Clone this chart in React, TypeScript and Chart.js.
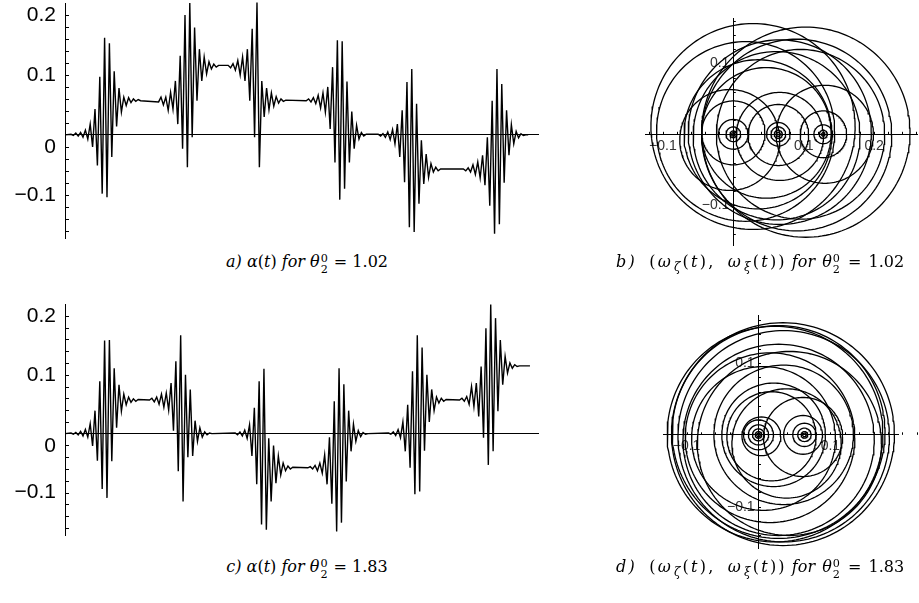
import React, { useEffect, useRef } from "react";
import { Chart, registerables } from "chart.js";

Chart.register(...registerables);

// ---------------- values ----------------
// time axis (no labels in the figure): one unit = one half-period of the fast oscillation
const timeMax = 197.1;
const alphaMin = -0.172;
const alphaMax = 0.22;
const alphaTickLabels = [-0.1, 0, 0.1, 0.2];

// panel a) theta = 1.02 : start time of each burst, then the successive extrema of the burst
const burstStartsA = [2.5, 39, 68, 100.5, 130.5, 166];
const burstA1 = [0.001, -0.001, 0.003, -0.002, 0.004, -0.004, 0.008, -0.007, 0.018, -0.02, 0.043, -0.051, 0.097, -0.098, 0.162, -0.104, 0.153, -0.037, 0.106, 0.014, 0.078, 0.038, 0.063, 0.049, 0.062, 0.054, 0.06, 0.056, 0.059, 0.057];
const burstA2 = [0.055, 0.063, 0.05, 0.063, 0.041, 0.071, 0.043, 0.09, 0.018, 0.132, -0.023, 0.2, -0.054, 0.22, -0.004, 0.179, 0.057, 0.143, 0.09, 0.13, 0.102, 0.122, 0.11, 0.118, 0.113, 0.116];
const burstA3 = [0.116, 0.112, 0.119, 0.108, 0.124, 0.1, 0.13, 0.09, 0.143, 0.057, 0.177, -0.004, 0.221, -0.054, 0.09, 0.03, 0.078, 0.042, 0.07, 0.048, 0.064, 0.053, 0.06, 0.056, 0.058];
const burstA4 = [0.057, 0.06, 0.055, 0.062, 0.052, 0.066, 0.045, 0.07, 0.038, 0.08, 0.01, 0.113, -0.046, 0.158, -0.108, 0.156, -0.09, 0.089, -0.046, 0.039, -0.023, 0.016, -0.007, 0.004, -0.002, 0.001];
const burstA5 = [0.001, -0.002, 0.002, -0.004, 0.005, -0.008, 0.009, -0.015, 0.018, -0.037, 0.041, -0.079, 0.088, -0.154, 0.11, -0.162, 0.052, -0.115, -0.009, -0.082, -0.032, -0.071, -0.048, -0.062, -0.054, -0.06, -0.057];
const burstA6 = [-0.057, -0.06, -0.055, -0.062, -0.05, -0.066, -0.045, -0.072, -0.034, -0.084, -0.004, -0.118, 0.057, -0.165, 0.11, -0.149, 0.085, -0.08, 0.041, -0.034, 0.017, -0.015, 0.006, -0.005, 0.002, -0.001, 0, 0];

// panel c) theta = 1.83
const burstStartsC = [2.5, 35.2, 70.9, 101.2, 134.8, 164.4];
const burstC1 = [0.001, -0.001, 0.002, -0.002, 0.004, -0.004, 0.007, -0.006, 0.017, -0.021, 0.039, -0.046, 0.089, -0.094, 0.158, -0.109, 0.159, -0.047, 0.111, 0.01, 0.083, 0.038, 0.067, 0.049, 0.062, 0.053, 0.059, 0.055, 0.058];
const burstC2 = [0.057, 0.06, 0.054, 0.062, 0.05, 0.067, 0.045, 0.069, 0.04, 0.086, 0.005, 0.123, -0.064, 0.167, -0.115, 0.1, -0.04, 0.075, -0.038, 0.022, -0.013, 0.01, -0.006, 0.003, -0.002, 0.001, 0];
const burstC3 = [0.001, -0.002, 0.003, -0.004, 0.006, -0.008, 0.015, -0.038, 0.044, -0.086, 0.089, -0.154, 0.11, -0.163, -0.008, -0.115, -0.02, -0.084, -0.038, -0.07, -0.05, -0.063, -0.055, -0.06, -0.057];
const burstC4 = [-0.058, -0.056, -0.06, -0.054, -0.063, -0.05, -0.067, -0.036, -0.086, -0.006, -0.119, 0.055, -0.166, 0.111, -0.151, 0.084, -0.081, 0.039, -0.03, 0.016, -0.013, 0.005, -0.005, 0.002, -0.001, 0];
const burstC5 = [0.001, -0.001, 0.003, -0.003, 0.007, -0.007, 0.02, -0.03, 0.049, -0.058, 0.106, -0.103, 0.167, -0.098, 0.146, -0.029, 0.1, 0.02, 0.075, 0.039, 0.062, 0.052, 0.06, 0.055, 0.058];
const burstC6 = [0.057, 0.06, 0.055, 0.063, 0.05, 0.08, 0.046, 0.086, 0.029, 0.114, -0.007, 0.179, -0.053, 0.219, -0.03, 0.196, 0.038, 0.159, 0.083, 0.131, 0.103, 0.12, 0.111, 0.117, 0.114, 0.115];
const tailC = [193.75, 0.115];

// panel b) omega trajectory, theta = 1.02 : circles [centre x, centre y, radius]
const omegaRangeB = { xMin: -0.1254, xMax: 0.2609, yMin: -0.1559, yMax: 0.1638 };
const omegaXLabelsB = [-0.1, 0.1, 0.2];
const omegaYLabelsB = [-0.1, 0.1];
const bigCirclesB = [
  [0.028, 0.011, 0.145],
  [0.0175, 0.004, 0.1265],
  [0.066, 0.003, 0.13],
  [0.0615, -0.002, 0.1185],
  [0.103, 0.003, 0.148],
  [0.09, -0.001, 0.135],
  [0.0955, 0.0, 0.1195],
  [0.047, 0.002, 0.092],
  [0.035, 0.0, 0.105],
];
const midCirclesB = [
  [-0.005, -0.008, 0.071],
  [0.0, 0.002, 0.045],
  [0.064, -0.001, 0.043],
  [0.066, -0.003, 0.062],
  [0.13, 0.0, 0.069],
  [0.128, 0.0, 0.033],
];
const ringCentresB = [[0, 0], [0.0639, 0], [0.1278, 0]];
const ringRadiiB = [
  [0.021, 0.0104, 0.0047, 0.0024],
  [0.0166, 0.0104, 0.0057, 0.0028],
  [0.0133, 0.0057, 0.0024],
];

// panel d) omega trajectory, theta = 1.83
const omegaRangeD = { xMin: -0.1328, xMax: 0.194, yMin: -0.1574, yMax: 0.1667 };
const omegaXLabelsD = [-0.1, 0.1];
const omegaYLabelsD = [-0.1, 0.1];
const bigCirclesD = [
  [0.034, 0.001, 0.155],
  [0.028, 0.004, 0.148],
  [0.035, -0.002, 0.147],
  [0.023, 0.001, 0.15],
  [0.028, -0.007, 0.133],
  [0.043, -0.012, 0.128],
  [0.016, -0.004, 0.118],
  [0.007, -0.005, 0.1],
  [0.035, 0.0, 0.097],
];
const midCirclesD = [
  [0.021, 0.0, 0.072],
  [0.039, -0.012, 0.076],
  [0.018, -0.002, 0.062],
  [0.062, -0.003, 0.055],
  [0.062, 0.0, 0.027],
  [0.004, -0.002, 0.027],
];
const ringCentresD = [[0, 0], [0.0639, 0]];
const ringRadiiD = [
  [0.0208, 0.014, 0.0083, 0.0046, 0.0025],
  [0.0162, 0.0093, 0.0046, 0.0025],
];

const thetaA = "1.02";
const thetaC = "1.83";

// ---------------- helpers ----------------
function burstSeries(starts: number[], bursts: number[][], tail: number[] | null) {
  const pts: { x: number; y: number }[] = [{ x: 0, y: 0 }];
  bursts.forEach((b, k) => b.forEach((v, i) => pts.push({ x: starts[k] + i, y: v })));
  if (tail) pts.push({ x: tail[0], y: tail[1] });
  return pts;
}

function circleOutline(cx: number, cy: number, r: number) {
  const n = r > 0.03 ? 160 : 48;
  const pts: { x: number; y: number }[] = [];
  for (let k = 0; k <= n; k++) {
    const a = (2 * Math.PI * k) / n;
    pts.push({ x: cx + r * Math.cos(a), y: cy + r * Math.sin(a) });
  }
  return pts;
}

function circleDatasets(big: number[][], mid: number[][], centres: number[][], radii: number[][]) {
  const list: number[][] = [...big, ...mid];
  centres.forEach((c, i) => radii[i].forEach((r) => list.push([c[0], c[1], r])));
  return list.map((c) => ({
    data: circleOutline(c[0], c[1], c[2]),
    showLine: true,
    borderColor: "#000",
    borderWidth: 1.3,
    pointRadius: 0,
    clip: false,
  }));
}

const fmt = (v: number) => (v < 0 ? "\u2212" : "") + Math.abs(v).toFixed(1);

function zeroPad(s: any) {
  s.paddingTop = 0;
  s.paddingBottom = 0;
  s.paddingLeft = 0;
  s.paddingRight = 0;
}

type TickSpec = { from: number; to: number; step: number; len: number; at?: number };

function tickPlugin(cfg: { x?: TickSpec; y?: TickSpec }) {
  return {
    id: "innerTicks",
    afterDraw(chart: any) {
      const { ctx, scales } = chart;
      const xs = scales.x;
      const ys = scales.y;
      ctx.save();
      ctx.strokeStyle = "#000";
      ctx.lineWidth = 1;
      ctx.beginPath();
      if (cfg.y) {
        const t = cfg.y;
        const x0 = t.at === undefined ? xs.left : xs.getPixelForValue(t.at);
        const n = Math.round((t.to - t.from) / t.step);
        for (let i = 0; i <= n; i++) {
          const v = t.from + i * t.step;
          if (Math.abs(v) < 1e-9) continue;
          const py = Math.round(ys.getPixelForValue(v)) + 0.5;
          ctx.moveTo(x0, py);
          ctx.lineTo(x0 + t.len, py);
        }
      }
      if (cfg.x) {
        const t = cfg.x;
        const y0 = ys.getPixelForValue(t.at === undefined ? 0 : t.at);
        const n = Math.round((t.to - t.from) / t.step);
        for (let i = 0; i <= n; i++) {
          const v = t.from + i * t.step;
          if (Math.abs(v) < 1e-9) continue;
          const px = Math.round(xs.getPixelForValue(v)) + 0.5;
          ctx.moveTo(px, y0);
          ctx.lineTo(px, y0 - t.len);
        }
      }
      ctx.stroke();
      ctx.restore();
    },
  };
}

const hiddenGrid = { display: true, drawOnChartArea: false, drawTicks: false };
const blackBorder = { display: true, color: "#000", width: 1 };

function timeConfig(points: any[], padding: any) {
  return {
    type: "scatter",
    data: {
      datasets: [
        {
          data: points,
          showLine: true,
          borderColor: "#000",
          borderWidth: 1.4,
          pointRadius: 0,
          clip: false,
        },
      ],
    },
    options: {
      responsive: false,
      animation: false,
      events: [],
      layout: { padding },
      plugins: { legend: { display: false }, tooltip: { enabled: false } },
      scales: {
        x: {
          type: "linear",
          min: 0,
          max: timeMax,
          position: { y: 0 },
          ticks: { display: false },
          grid: hiddenGrid,
          border: blackBorder,
          afterFit: zeroPad,
        },
        y: {
          type: "linear",
          min: alphaMin,
          max: alphaMax,
          position: "left",
          afterBuildTicks: (s: any) => {
            s.ticks = alphaTickLabels.map((v) => ({ value: v }));
          },
          ticks: {
            autoSkip: false,
            padding: 9,
            color: "#000",
            font: { family: "'Liberation Sans', Arial, sans-serif", size: 21 },
            callback: (v: number) => (Math.abs(v) < 1e-9 ? ["", "0"] : fmt(v)),
          },
          grid: hiddenGrid,
          border: blackBorder,
          afterFit: (s: any) => {
            zeroPad(s);
            s.width = 65;
          },
        },
      },
    },
    plugins: [tickPlugin({ y: { from: -0.16, to: 0.2, step: 0.02, len: 4 } })],
  };
}

function omegaConfig(datasets: any[], range: any, xLabels: number[], yLabels: number[], padding: any) {
  const labelFont = { family: "'Liberation Sans', Arial, sans-serif", size: 14 };
  return {
    type: "scatter",
    data: { datasets },
    options: {
      responsive: false,
      animation: false,
      events: [],
      layout: { padding },
      plugins: { legend: { display: false }, tooltip: { enabled: false } },
      scales: {
        x: {
          type: "linear",
          min: range.xMin,
          max: range.xMax,
          position: { y: 0 },
          afterBuildTicks: (s: any) => {
            s.ticks = xLabels.map((v) => ({ value: v }));
          },
          ticks: { autoSkip: false, maxRotation: 0, padding: 3, color: "#333", font: labelFont, callback: (v: number) => fmt(v) },
          grid: hiddenGrid,
          border: blackBorder,
          afterFit: zeroPad,
        },
        y: {
          type: "linear",
          min: range.yMin,
          max: range.yMax,
          position: { x: 0 },
          afterBuildTicks: (s: any) => {
            s.ticks = yLabels.map((v) => ({ value: v }));
          },
          ticks: { autoSkip: false, color: "#333", font: labelFont, callback: (v: number) => fmt(v) + " " },
          grid: hiddenGrid,
          border: blackBorder,
          afterFit: zeroPad,
        },
      },
    },
    plugins: [
      tickPlugin({
        x: { from: -0.12, to: 0.26, step: 0.02, len: 2.5 },
        y: { from: -0.14, to: 0.16, step: 0.02, len: 2.5, at: 0 },
      }),
    ],
  };
}

function ChartCanvas({ left, top, width, height, make }: any) {
  const ref = useRef<HTMLCanvasElement | null>(null);
  useEffect(() => {
    if (!ref.current) return;
    const chart = new Chart(ref.current, make());
    return () => chart.destroy();
  }, []);
  return (
    <canvas
      ref={ref}
      width={width}
      height={height}
      style={{ position: "absolute", left, top, width, height }}
    />
  );
}

function SubSup({ sub, sup }: { sub: string; sup: string }) {
  return (
    <span
      style={{
        display: "inline-flex",
        flexDirection: "column",
        fontSize: "0.7em",
        lineHeight: 1,
        verticalAlign: "0.45em",
        fontStyle: "normal",
        letterSpacing: 0,
        marginLeft: 1,
        marginRight: 1,
      }}
    >
      <span>{sup}</span>
      <span>{sub}</span>
    </span>
  );
}

const captionBase: any = {
  position: "absolute",
  fontFamily: "'DejaVu Serif', 'Liberation Serif', serif",
  fontSize: 16,
  lineHeight: "20px",
  whiteSpace: "nowrap",
  color: "#000",
};

function AlphaCaption({ tag, theta, left, top }: any) {
  return (
    <div style={{ ...captionBase, left, top, width: 300, textAlign: "center" }}>
      <i>{tag})</i> <i>α</i>(<i>t</i>) <i>for</i> <i>θ</i>
      <SubSup sub="2" sup="0" /> = {theta}
    </div>
  );
}

function OmegaCaption({ tag, theta, left, top }: any) {
  const sub: any = { fontSize: "0.75em", verticalAlign: "-0.3em", fontStyle: "italic", marginLeft: 1 };
  return (
    <div style={{ ...captionBase, left, top, width: 310, textAlign: "left" }}>
      <span style={{ letterSpacing: "2.2px", wordSpacing: "5px" }}>
        <i>{tag})</i> (<i>ω</i>
        <span style={sub}>ζ</span>(<i>t</i>), <i>ω</i>
        <span style={sub}>ξ</span>(<i>t</i>))
      </span>{" "}
      <span style={{ wordSpacing: "2px" }}>
        <i>for</i> <i>θ</i>
        <SubSup sub="2" sup="0" /> = {theta}
      </span>
    </div>
  );
}

export default function App() {
  const seriesA = burstSeries(burstStartsA, [burstA1, burstA2, burstA3, burstA4, burstA5, burstA6], null);
  const seriesC = burstSeries(burstStartsC, [burstC1, burstC2, burstC3, burstC4, burstC5, burstC6], tailC);
  return (
    <div style={{ position: "absolute", left: 0, top: 0, width: 919, height: 603, background: "#fff", overflow: "hidden" }}>
      <ChartCanvas
        left={0}
        top={0}
        width={545}
        height={250}
        make={() => timeConfig(seriesA, { left: 0, right: 7, top: 3, bottom: 12 })}
      />
      <ChartCanvas
        left={0}
        top={300}
        width={545}
        height={250}
        make={() => timeConfig(seriesC, { left: 0, right: 7, top: 4, bottom: 15 })}
      />
      <ChartCanvas
        left={620}
        top={0}
        width={299}
        height={255}
        make={() =>
          omegaConfig(
            circleDatasets(bigCirclesB, midCirclesB, ringCentresB, ringRadiiB),
            omegaRangeB,
            omegaXLabelsB,
            omegaYLabelsB,
            { left: 25, right: 2, top: 18, bottom: 10 }
          )
        }
      />
      <ChartCanvas
        left={620}
        top={300}
        width={299}
        height={260}
        make={() =>
          omegaConfig(
            circleDatasets(bigCirclesD, midCirclesD, ringCentresD, ringRadiiD),
            omegaRangeD,
            omegaXLabelsD,
            omegaYLabelsD,
            { left: 43, right: 21, top: 15, bottom: 12 }
          )
        }
      />
      <AlphaCaption tag="a" theta={thetaA} left={157} top={252} />
      <OmegaCaption tag="b" theta={thetaA} left={616} top={252} />
      <AlphaCaption tag="c" theta={thetaC} left={157} top={557} />
      <OmegaCaption tag="d" theta={thetaC} left={616} top={557} />
    </div>
  );
}
